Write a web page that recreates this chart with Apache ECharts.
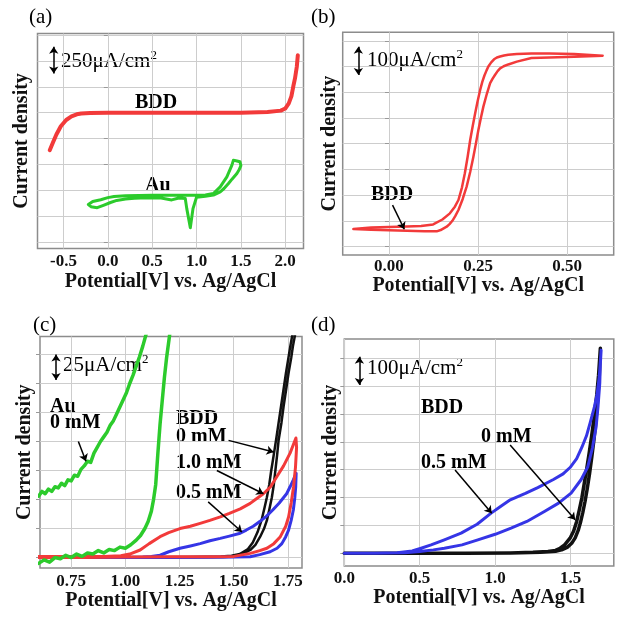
<!DOCTYPE html>
<html>
<head>
<meta charset="utf-8">
<script src="https://cdn.jsdelivr.net/npm/echarts@6/dist/echarts.min.js"></script>
<style>
  html, body { margin: 0; padding: 0; background: #fff; }
  #chart { width: 622px; height: 621px; }
</style>
</head>
<body>
<div id="chart"></div>
<script>
// ---- panel (a): BDD vs Au, wide window ----
const aTicks = [-0.5, 0, 0.5, 1.0, 1.5, 2.0];
const aGrid = [0, 250, 500, 750, 1000, 1250, 1500, 1750, 2000];
const aBddV = [-0.655, -0.62, -0.58, -0.53, -0.47, -0.41, -0.35, -0.3, -0.2, 0.0, 0.5, 1.0, 1.5, 1.8, 1.95, 2.0, 2.04, 2.07, 2.09, 2.11, 2.13, 2.142];
const aBddJ = [889, 960, 1040, 1120, 1180, 1215, 1235, 1243, 1248, 1249, 1249, 1249, 1250, 1256, 1270, 1290, 1340, 1410, 1500, 1580, 1690, 1804];
const aAuV = [-0.22, -0.17, -0.08, 0.0, 0.07, 0.2, 0.5, 0.8, 1.0, 1.1, 1.19, 1.267, 1.342, 1.399, 1.416, 1.455, 1.49, 1.50, 1.48, 1.455, 1.40, 1.36, 1.31, 1.267, 1.19, 1.1, 1.0, 0.985, 0.96, 0.93, 0.89, 0.873, 0.8, 0.72, 0.6, 0.44, 0.3, 0.2, 0.1, 0.03, -0.05, -0.12, -0.19, -0.22];
const aAuJ = [366, 395, 412, 432, 442, 450, 455, 456, 456, 458, 472, 536, 632, 745, 793, 785, 777, 740, 700, 665, 610, 568, 520, 488, 456, 445, 435, 424, 326, 141, 326, 424, 428, 410, 428, 430, 425, 418, 405, 385, 358, 335, 345, 366];

// ---- panel (b): BDD sigmoid ----
const bTicks = [0, 0.25, 0.5];
const bGrid = [0, 100, 200, 300, 400, 500, 600, 700, 800];
const bFwdV = [-0.10, -0.05, 0.0, 0.05, 0.09, 0.124, 0.15, 0.171, 0.185, 0.195, 0.205, 0.213, 0.221, 0.228, 0.235, 0.242, 0.249, 0.256, 0.262, 0.268, 0.274, 0.279, 0.287, 0.295, 0.303, 0.312, 0.323, 0.335, 0.359, 0.40, 0.45, 0.52, 0.6];
const bFwdJ = [68, 74, 76, 78, 80, 86, 105, 129, 155, 181, 230, 285, 350, 414, 468, 518, 566, 609, 640, 665, 685, 700, 716, 728, 735, 739, 743, 746, 749, 751, 751, 749, 742];
const bRevV = [0.6, 0.52, 0.45, 0.40, 0.359, 0.335, 0.322, 0.312, 0.305, 0.298, 0.291, 0.284, 0.275, 0.265, 0.258, 0.251, 0.244, 0.237, 0.228, 0.218, 0.207, 0.195, 0.186, 0.178, 0.170, 0.162, 0.145, 0.134, 0.1, 0.05, 0.0, -0.05, -0.10];
const bRevJ = [742, 738, 735, 733, 719, 708, 701, 693, 682, 668, 653, 635, 595, 544, 500, 453, 400, 349, 290, 233, 185, 142, 118, 100, 87, 77, 64, 59, 59, 61, 63, 65, 68];

// ---- panel (c): anodic region, Au and BDD ----
const cTicks = [0.75, 1.0, 1.25, 1.5, 1.75];
const cGrid = [0, 25, 50, 75, 100, 125, 150, 175];
const cAuUpV = [0.600, 0.615, 0.630, 0.645, 0.660, 0.675, 0.690, 0.705, 0.720, 0.735, 0.750, 0.765, 0.780, 0.795, 0.810, 0.825, 0.840, 0.855, 0.870, 0.885, 0.900, 0.915, 0.930, 0.945, 0.960, 0.975, 0.990, 1.005, 1.020, 1.035, 1.050, 1.065, 1.080, 1.095, 1.110];
const cAuUpJ = [53, 57, 55, 59, 57, 61, 60, 64, 62, 67, 66, 71, 70, 76, 79, 83, 82, 90, 95, 100, 104, 108, 114, 118, 124, 130, 136, 142, 150, 157, 165, 173, 182, 192, 203];
const cAuLowV = [0.600, 0.625, 0.650, 0.675, 0.700, 0.725, 0.750, 0.775, 0.800, 0.825, 0.850, 0.875, 0.900, 0.925, 0.950, 0.975, 1.000, 1.025, 1.050, 1.070, 1.090, 1.105, 1.120, 1.130, 1.140, 1.150, 1.160, 1.170, 1.180, 1.190, 1.200, 1.210];
const cAuLowJ = [-5, -2, -4, 0, -1, 2, 0, 3, 1, 4, 3, 6, 4, 7, 6, 9, 8, 11, 15, 19, 25, 31, 40, 50, 63, 90, 115, 135, 155, 172, 186, 200];
const c10V = [0.60, 0.8, 1.0, 1.2, 1.4, 1.5, 1.576, 1.62, 1.653, 1.685, 1.715, 1.74, 1.753, 1.765, 1.776, 1.785, 1.79, 1.787, 1.76, 1.73, 1.70, 1.67, 1.637, 1.60, 1.576, 1.53, 1.48, 1.438, 1.39, 1.345, 1.30, 1.252, 1.20, 1.16, 1.11, 1.068, 1.02, 0.979, 0.9, 0.8, 0.6];
const c10J = [0, 0, 0.5, 0.7, 0.7, 1, 3.6, 6, 8, 12, 18, 27, 35, 47, 61, 78, 95, 103, 90, 79, 70, 61, 55, 50, 46.7, 42, 38, 35, 32, 29.5, 27, 25, 21.5, 18, 12, 6.5, 3, 1.5, 1, 1, 1];
const c05V = [0.6, 0.9, 1.2, 1.4, 1.5, 1.576, 1.62, 1.668, 1.70, 1.722, 1.74, 1.753, 1.765, 1.775, 1.782, 1.786, 1.788, 1.775, 1.76, 1.744, 1.71, 1.68, 1.65, 1.62, 1.59, 1.558, 1.53, 1.48, 1.438, 1.39, 1.345, 1.30, 1.252, 1.20, 1.16, 1.12, 1.08, 1.0, 0.8, 0.6];
const c05J = [0, 0, 0, 0.3, 0.5, 0.7, 2.5, 5, 8, 12, 18, 23.7, 32, 41, 52, 61, 72.6, 67, 61, 55, 47, 41, 35.5, 31, 27, 23.7, 21, 18.5, 16.5, 14.5, 12, 10, 8, 5, 2, 1, 0.5, 0.3, 0.3, 0.3];
const c0V = [0.6, 1.0, 1.3, 1.45, 1.5, 1.54, 1.576, 1.60, 1.622, 1.64, 1.653, 1.665, 1.676, 1.685, 1.692, 1.70, 1.707, 1.72, 1.73, 1.742, 1.753, 1.765, 1.773, 1.784, 1.795, 1.783, 1.761, 1.741, 1.718, 1.695, 1.680, 1.673, 1.664, 1.653, 1.641, 1.628, 1.610, 1.588, 1.564, 1.528, 1.49, 1.44, 1.3, 1.0, 0.6];
const c0J = [0, 0, 0.3, 0.5, 1, 3, 6.5, 11, 18, 25, 32, 42, 52, 63, 75, 88, 101, 116, 130, 145, 159, 172, 182, 193, 205, 205, 182, 159, 130, 101, 83, 75, 63, 52, 42, 32, 22, 13, 7, 3, 1.5, 1, 0.5, 0.3, 0.3];

// ---- panel (d): BDD, 0 and 0.5 mM ----
const dTicks = [0, 0.5, 1.0, 1.5];
const dGrid = [0, 100, 200, 300, 400, 500, 600, 700];
const d0V = [0.0, 0.3, 0.6, 0.9, 1.1, 1.25, 1.35, 1.40, 1.43, 1.46, 1.496, 1.52, 1.54, 1.557, 1.574, 1.59, 1.607, 1.624, 1.64, 1.657, 1.673, 1.685, 1.697, 1.69, 1.68, 1.668, 1.655, 1.64, 1.625, 1.61, 1.595, 1.58, 1.565, 1.55, 1.53, 1.51, 1.48, 1.44, 1.40, 1.3, 1.1, 0.8, 0.5, 0.2, 0.0];
const d0J = [0, 0, 0, 0, 1, 3, 6, 10, 18, 30, 54, 80, 114, 155, 198, 250, 305, 365, 425, 495, 569, 640, 737, 640, 560, 480, 410, 345, 285, 232, 185, 145, 110, 82, 55, 38, 22, 12, 7, 3, 1, 0, 0, 0, 0];
const d05V = [0.0, 0.2, 0.35, 0.45, 0.509, 0.575, 0.663, 0.774, 0.88, 0.973, 1.04, 1.1, 1.2, 1.282, 1.386, 1.45, 1.496, 1.54, 1.574, 1.605, 1.63, 1.657, 1.675, 1.69, 1.702, 1.697, 1.693, 1.682, 1.669, 1.645, 1.614, 1.57, 1.503, 1.42, 1.326, 1.21, 1.105, 1.0, 0.885, 0.78, 0.663, 0.59, 0.5, 0.4, 0.2, 0.0];
const d05J = [0, 0, 2, 8, 18, 30, 48, 72, 104, 144, 170, 192, 215, 236, 265, 285, 308, 340, 380, 422, 470, 525, 570, 635, 730, 680, 611, 530, 455, 380, 311, 265, 216, 180, 150, 114, 90, 68, 48, 30, 18, 12, 6, 2, 0, 0];

const SERIF = '"Liberation Serif", "Times New Roman", serif';
const RED = '#f23a3a', GREEN = '#2ccb2c', BLUE = '#3535e6', BLACK = '#111';
const pts = (v, j) => v.map((x, i) => [x, j[i]]);

function xAxisFor(grid, min, max, ticks, digits, gap, margin) {
  return {
    gridIndex: grid, type: 'value', min: min, max: max,
    axisLine: { show: false },
    axisTick: { show: false, customValues: ticks },
    axisLabel: {
      customValues: ticks, margin: margin,
      formatter: v => v.toFixed(digits),
      color: '#111', fontFamily: SERIF, fontWeight: 'bold', fontSize: 17
    },
    splitLine: { show: true, lineStyle: { color: '#cdcdcd', width: 1 } },
    name: 'Potential[V] vs. Ag/AgCl', nameLocation: 'middle', nameGap: gap,
    nameTextStyle: { color: '#111', fontFamily: SERIF, fontWeight: 'bold', fontSize: 20 }
  };
}

function yAxisFor(grid, min, max, lines, gap) {
  return {
    gridIndex: grid, type: 'value', min: min, max: max,
    axisLine: { show: false },
    axisTick: { show: true, customValues: lines, length: 4, lineStyle: { color: '#999' } },
    axisLabel: { show: false },
    splitLine: { show: true, lineStyle: { color: '#cdcdcd', width: 1 } },
    name: 'Current density', nameLocation: 'middle', nameGap: gap,
    nameTextStyle: { color: '#111', fontFamily: SERIF, fontWeight: 'bold', fontSize: 20 }
  };
}

function curve(idx, data, color, width, extra) {
  return Object.assign({
    type: 'line', xAxisIndex: idx, yAxisIndex: idx, data: data,
    symbol: 'none', smooth: false, animation: false, silent: true,
    lineStyle: { color: color, width: width, join: 'round', cap: 'round' }
  }, extra || {});
}

// arrows / scale bars in data coordinates
function pointers(bar, arrows) {
  const data = [[{ coord: bar[0], symbol: 'arrow' }, { coord: bar[1], symbol: 'arrow' }]];
  arrows.forEach(a => data.push([{ coord: a[0], symbol: 'none' }, { coord: a[1], symbol: 'arrow' }]));
  return {
    markLine: {
      silent: true, animation: false, symbolSize: 7,
      label: { show: false },
      lineStyle: { color: '#000', width: 1.5, type: 'solid' },
      data: data
    }
  };
}

function txt(s, x, y, size, bold) {
  return {
    type: 'text', x: x, y: y, silent: true,
    style: { text: s, fill: '#000', font: (bold ? 'bold ' : '') + size + 'px ' + SERIF, textAlign: 'left', textVerticalAlign: 'middle' }
  };
}
function scaleTxt(num, x, y) {
  return {
    type: 'text', x: x, y: y, silent: true,
    style: {
      text: '{a|' + num + 'μA/cm}{b|2}', textVerticalAlign: 'middle',
      rich: {
        a: { fontFamily: SERIF, fontSize: 21, lineHeight: 24, fill: '#000' },
        b: { fontFamily: SERIF, fontSize: 13, lineHeight: 13, verticalAlign: 'top', fill: '#000' }
      }
    }
  };
}

const chart = echarts.init(document.getElementById('chart'));
chart.setOption({
  backgroundColor: '#fff',
  animation: false,
  grid: [
    { left: 37.5, top: 33.5, width: 266, height: 215 },
    { left: 342.7, top: 32.3, width: 271, height: 222.7 },
    { left: 40, top: 336.5, width: 262, height: 231.5 },
    { left: 344.3, top: 339, width: 269.5, height: 227 }
  ].map(g => Object.assign(g, { show: true, borderColor: '#8c8c8c', borderWidth: 1.5 })),
  xAxis: [
    xAxisFor(0, -0.793, 2.206, aTicks, 1, 18, 5),
    xAxisFor(1, -0.130, 0.631, bTicks, 2, 18, 3),
    xAxisFor(2, 0.606, 1.815, cTicks, 2, 23, 5),
    xAxisFor(3, 0, 1.786, dTicks, 1, 20, 4)
  ],
  yAxis: [
    yAxisFor(0, -58, 2013, aGrid, 6),
    yAxisFor(1, -33, 833, bGrid, 3),
    yAxisFor(2, -9, 190.5, cGrid, 5),
    yAxisFor(3, -46, 770, dGrid, 3)
  ],
  series: [
    curve(0, pts(aBddV, aBddJ), RED, 4, pointers([[-0.61, 1628], [-0.61, 1885]], [])),
    curve(0, pts(aAuV, aAuJ), GREEN, 3),
    curve(1, pts(bFwdV, bFwdJ).concat(pts(bRevV, bRevJ)), RED, 2.5,
      pointers([[-0.086, 667], [-0.086, 777]], [[[0.010, 161], [0.043, 67]]])),
    curve(2, pts(c0V, c0J), BLACK, 2.5),
    curve(2, pts(c05V, c05J), BLUE, 3),
    curve(2, pts(c10V, c10J), RED, 3,
      pointers([[0.68, 153], [0.68, 175]], [
        [[0.783, 100], [0.818, 83]],
        [[1.476, 101], [1.684, 91]],
        [[1.422, 75], [1.637, 55]],
        [[1.382, 48], [1.538, 22]]
      ])),
    curve(2, pts(cAuUpV, cAuUpJ), GREEN, 3.5),
    curve(2, pts(cAuLowV, cAuLowJ), GREEN, 3.5),
    curve(3, pts(d0V, d0J), BLACK, 3.5),
    curve(3, pts(d05V, d05J), BLUE, 3,
      pointers([[0.1, 605], [0.1, 706]], [
        [[0.734, 299], [0.977, 144]],
        [[1.099, 389], [1.53, 120]]
      ]))
  ],
  graphic: [
    txt('(a)', 29, 17, 21, false),
    txt('(b)', 311, 17, 21, false),
    txt('(c)', 33, 325, 21, false),
    txt('(d)', 311, 325, 21, false),
    scaleTxt('250', 61, 61),
    scaleTxt('100', 367, 60),
    scaleTxt('25', 63, 365),
    scaleTxt('100', 367, 368),
    txt('BDD', 135, 103, 20, true),
    txt('Au', 145, 186, 20, true),
    txt('BDD', 371, 195, 20, true),
    txt('Au', 50, 407, 20, true),
    txt('0 mM', 50, 423, 20, true),
    txt('BDD', 176, 419, 20, true),
    txt('0 mM', 176, 437, 20, true),
    txt('1.0 mM', 176, 463, 20, true),
    txt('0.5 mM', 176, 493, 20, true),
    txt('BDD', 421, 408, 20, true),
    txt('0 mM', 481, 437, 20, true),
    txt('0.5 mM', 421, 463, 20, true)
  ]
});
</script>
</body>
</html>
